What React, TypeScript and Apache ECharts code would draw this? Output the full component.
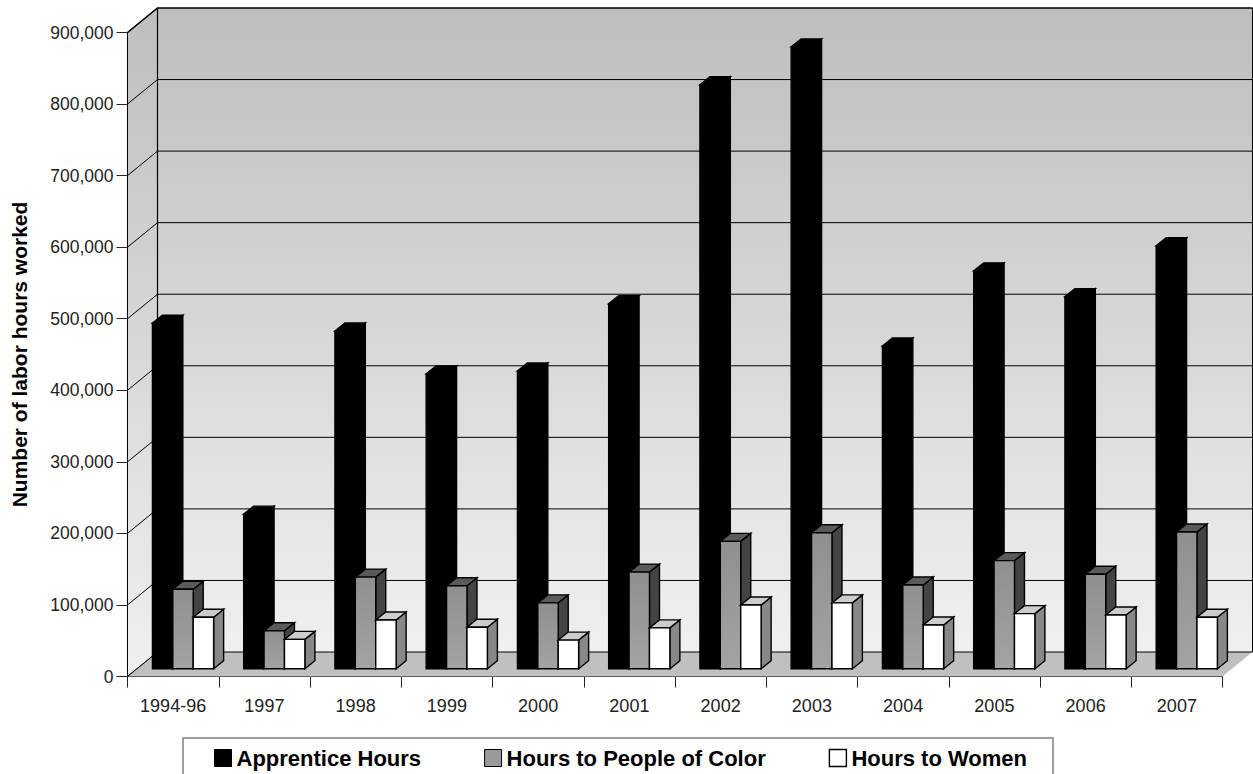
import React, { useEffect, useRef } from "react";
import * as echarts from "echarts";

const categories = ["1994-96", "1997", "1998", "1999", "2000", "2001", "2002", "2003", "2004", "2005", "2006", "2007"];
const apprenticeHours = [483000, 216000, 472000, 412000, 416000, 510000, 816000, 869000, 451000, 556000, 520000, 591000];
const peopleOfColorHours = [111000, 53000, 128000, 116000, 92000, 135000, 178000, 190000, 117000, 151000, 132000, 191000];
const womenHours = [72000, 41000, 68000, 58000, 40000, 57000, 89000, 92000, 61000, 77000, 75000, 72000];
const gridTicks = [0, 100000, 200000, 300000, 400000, 500000, 600000, 700000, 800000, 900000];

const FONT = "'Liberation Sans', Arial, sans-serif";
const WALL_DX = 30;
const WALL_DY = 24.5;
const BAR_DX = 10;
const BAR_DY = 8;
const BAR_W = 20.4;
const FLOOR_SHIFT_X = 9.9;
const FLOOR_SHIFT_Y = 7.8;

const barSeries = (
  name: string,
  values: number[],
  slot: number,
  front: any,
  top: string,
  side: string,
  stroke: string,
  legendColor: string
) => ({
  type: "custom",
  name,
  z: 3 + slot,
  itemStyle: { color: legendColor, borderColor: "#000", borderWidth: 1 },
  encode: { x: 0, y: 1 },
  data: values.map((v, i) => [i, v]),
  renderItem: (_: any, api: any) => {
    const c = api.coord([api.value(0), api.value(1)]);
    const b = api.coord([api.value(0), 0]);
    const x0 = c[0] - BAR_W * 1.5 + FLOOR_SHIFT_X + slot * BAR_W;
    const x1 = x0 + BAR_W;
    const yT = c[1] - FLOOR_SHIFT_Y;
    const yB = b[1] - FLOOR_SHIFT_Y;
    const lw = 1.4;
    return {
      type: "group",
      children: [
        {
          type: "polygon",
          shape: { points: [[x1, yT], [x1 + BAR_DX, yT - BAR_DY], [x1 + BAR_DX, yB - BAR_DY], [x1, yB]] },
          style: { fill: side, stroke, lineWidth: lw },
        },
        {
          type: "polygon",
          shape: { points: [[x0, yT], [x0 + BAR_DX, yT - BAR_DY], [x1 + BAR_DX, yT - BAR_DY], [x1, yT]] },
          style: { fill: top, stroke, lineWidth: lw },
        },
        {
          type: "rect",
          shape: { x: x0, y: yT, width: BAR_W, height: yB - yT },
          style: { fill: front, stroke, lineWidth: lw },
        },
      ],
    };
  },
});

export default function App() {
  const ref = useRef<HTMLDivElement>(null);

  useEffect(() => {
    const chart = echarts.init(ref.current!, null, { renderer: "svg" });
    const wallFill = () =>
      new echarts.graphic.LinearGradient(0, 0, 0, 1, [
        { offset: 0, color: "#bebebe" },
        { offset: 1, color: "#f0f0f0" },
      ]);
    const legendNames = ["Apprentice Hours", "Hours to People of Color", "Hours to Women"];
    chart.setOption({
      animation: false,
      backgroundColor: "#ffffff",
      textStyle: { fontFamily: FONT },
      grid: { left: 127.5, right: 30.5, top: 32.5, bottom: 97.5, containLabel: false, outerBoundsMode: "none" },
      legend: {
        data: [
          { name: legendNames[0], itemStyle: { color: "#000", borderColor: "#000", borderWidth: 1 } },
          { name: legendNames[1], itemStyle: { color: "#999999", borderColor: "#000", borderWidth: 1 } },
          { name: legendNames[2], itemStyle: { color: "#fff", borderColor: "#000", borderWidth: 1.4 } },
        ],
        left: 183,
        top: 738,
        icon: "rect",
        itemWidth: 17,
        itemHeight: 17,
        itemGap: 63,
        padding: [9, 26, 20, 31],
        borderColor: "#808080",
        borderWidth: 1.5,
        backgroundColor: "#fff",
        textStyle: { fontFamily: FONT, fontWeight: "bold", fontSize: 22, color: "#000" },
      },
      xAxis: {
        type: "category",
        data: categories,
        boundaryGap: true,
        axisLine: { show: true, lineStyle: { color: "#000", width: 1 } },
        axisTick: { show: true, length: 11, interval: 0, alignWithLabel: false, lineStyle: { color: "#222" } },
        axisLabel: { color: "#222", fontSize: 18, margin: 20, interval: 0, fontFamily: FONT },
        splitLine: { show: false },
      },
      yAxis: {
        type: "value",
        min: 0,
        max: 900000,
        interval: 100000,
        name: "Number of labor hours worked",
        nameLocation: "middle",
        nameRotate: 90,
        nameGap: 98,
        nameTextStyle: { fontFamily: FONT, fontWeight: "bold", fontSize: 21, color: "#000" },
        axisLine: { show: true, lineStyle: { color: "#000", width: 1 } },
        axisTick: { show: true, length: 11, lineStyle: { color: "#222" } },
        axisLabel: {
          color: "#222",
          fontSize: 17.5,
          margin: 14,
          fontFamily: FONT,
          formatter: (v: number) => v.toLocaleString("en-US"),
        },
        splitLine: { show: false },
      },
      series: [
        {
          type: "custom",
          name: "walls",
          z: 1,
          silent: true,
          encode: { x: 0, y: 1 },
          data: [[0, 0]],
          renderItem: (_: any, api: any) => {
            const xl = api.coord([0, 0])[0] - api.size([1, 0])[0] / 2;
            const xr = xl + api.size([1, 0])[0] * categories.length;
            const yb = api.coord([0, 0])[1];
            const yt = api.coord([0, 900000])[1];
            const children: any[] = [
              {
                type: "polygon",
                shape: { points: [[xl, yt], [xl + WALL_DX, yt - WALL_DY], [xl + WALL_DX, yb - WALL_DY], [xl, yb]] },
                style: { fill: wallFill(), stroke: "#000", lineWidth: 1 },
              },
              {
                type: "rect",
                shape: { x: xl + WALL_DX, y: yt - WALL_DY, width: xr - xl, height: yb - yt },
                style: { fill: wallFill(), stroke: "none" },
              },
              {
                type: "polygon",
                shape: { points: [[xl, yb], [xr, yb], [xr + WALL_DX, yb - WALL_DY], [xl + WALL_DX, yb - WALL_DY]] },
                style: { fill: "#c0c0c0", stroke: "none" },
              },
            ];
            gridTicks.forEach((t) => {
              const y = api.coord([0, t])[1];
              children.push({
                type: "polyline",
                shape: { points: [[xl, y], [xl + WALL_DX, y - WALL_DY], [xr + WALL_DX, y - WALL_DY]] },
                style: { fill: "none", stroke: "#000", lineWidth: t === 900000 ? 1.6 : 1 },
              });
            });
            children.push(
              {
                type: "line",
                shape: { x1: xl + WALL_DX, y1: yt - WALL_DY, x2: xl + WALL_DX, y2: yb - WALL_DY },
                style: { stroke: "#000", lineWidth: 1.2 },
              },
              {
                type: "line",
                shape: { x1: xr + WALL_DX, y1: yt - WALL_DY, x2: xr + WALL_DX, y2: yb - WALL_DY },
                style: { stroke: "#000", lineWidth: 1 },
              }
            );
            return { type: "group", children };
          },
        },
        barSeries(legendNames[0], apprenticeHours, 0, "#000", "#000", "#000", "#000", "#000"),
        barSeries(
          legendNames[1],
          peopleOfColorHours,
          1,
          new echarts.graphic.LinearGradient(0, 0, 0, 1, [
            { offset: 0, color: "#8f8f8f" },
            { offset: 1, color: "#a3a3a3" },
          ]),
          "#5a5a5a",
          "#444444",
          "#000",
          "#999999"
        ),
        barSeries(legendNames[2], womenHours, 2, "#ffffff", "#cccccc", "#888888", "#000", "#ffffff"),
      ],
    } as any);
    return () => chart.dispose();
  }, []);

  return <div ref={ref} style={{ position: "absolute", left: 0, top: 0, width: 1253, height: 774 }} />;
}
